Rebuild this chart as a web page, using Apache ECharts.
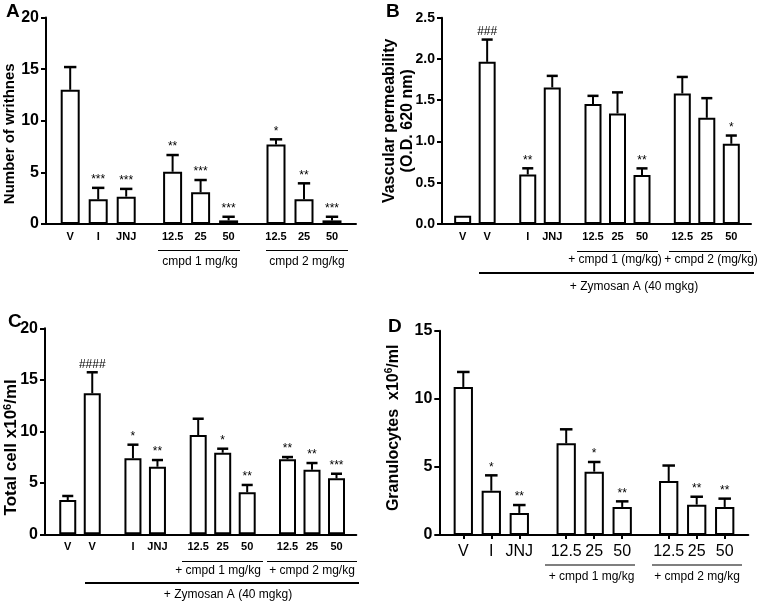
<!DOCTYPE html>
<html>
<head>
<meta charset="utf-8">
<script src="https://cdn.jsdelivr.net/npm/echarts@6/dist/echarts.min.js"></script>
<style>
  html, body { margin: 0; padding: 0; background: #fff; }
  #chart { width: 761px; height: 604px; }
</style>
</head>
<body>
<div id="chart"></div>
<script>
// Panel A - writhing test
const catsA = ['V', 'I', 'JNJ', '12.5', '25', '50', '12.5', '25', '50'];
const valsA = [13.0, 2.39, 2.65, 5.06, 3.07, 0.35, 7.71, 2.39, 0.35];
const errsA = [2.2, 1.11, 0.75, 1.62, 1.19, 0.35, 0.49, 1.55, 0.35];
const sigA = ['', '***', '***', '**', '***', '***', '*', '**', '***'];
const groupsA = [3, 3, 3];
const yTicksA = { max: 20, step: 5 };

// Panel B - vascular permeability
const catsB = ['V', 'V', 'I', 'JNJ', '12.5', '25', '50', '12.5', '25', '50'];
const valsB = [0.1, 1.965, 0.6, 1.655, 1.453, 1.34, 0.593, 1.582, 1.287, 0.972];
const errsB = [0, 0.27, 0.075, 0.14, 0.1, 0.255, 0.081, 0.2, 0.238, 0.1];
const sigB = ['', '###', '**', '', '', '', '**', '', '', '*'];
const groupsB = [2, 2, 3, 3];
const yTicksB = { max: 2.5, step: 0.5 };

// Panel C - total cells
const catsC = ['V', 'V', 'I', 'JNJ', '12.5', '25', '50', '12.5', '25', '50'];
const valsC = [3.33, 13.69, 7.38, 6.56, 9.64, 7.92, 4.08, 7.28, 6.27, 5.43];
const errsC = [0.39, 2.04, 1.32, 0.65, 1.58, 0.39, 0.71, 0.22, 0.65, 0.45];
const sigC = ['', '####', '*', '**', '', '*', '**', '**', '**', '***'];
const groupsC = [2, 2, 3, 3];
const yTicksC = { max: 20, step: 5 };

// Panel D - granulocytes
const catsD = ['V', 'I', 'JNJ', '12.5', '25', '50', '12.5', '25', '50'];
const valsD = [10.87, 3.25, 1.62, 6.73, 4.65, 2.06, 3.96, 2.23, 2.06];
const errsD = [1.1, 1.13, 0.58, 1.03, 0.71, 0.41, 1.14, 0.58, 0.61];
const sigD = ['', '*', '**', '', '*', '**', '', '**', '**'];
const groupsD = [3, 3, 3];
const yTicksD = { max: 15, step: 5 };

const FONT = '"Liberation Sans", Arial, Helvetica, sans-serif';

// layout of each panel (pixels)
const layA = { x0: 45, x1: 356, top: 17.5, y0: 224, slot: 28, barW: 19, centers: [98.2, 200.6, 304], tickSize: 16,
  name: { size: 15, gap: 28, pad: [0, 26, 0, 0] }, lab: { size: 11, bold: true, margin: 7 }, ticks: false };
const layB = { x0: 442, x1: 751, top: 17.7, y0: 224, slot: 24.5, barW: 17, centers: [474.9, 540, 617.5, 706.8], tickSize: 14,
  name: { size: 16, gap: 25, pad: [0, 0, 0, 0] }, lab: { size: 11, bold: true, margin: 7 }, ticks: false };
const layC = { x0: 45, x1: 356.3, top: 328.3, y0: 534.3, slot: 24.5, barW: 17, centers: [80, 145.2, 222.7, 312], tickSize: 16,
  name: { size: 17, gap: 24, pad: [0, 32, 0, 0] }, lab: { size: 11, bold: true, margin: 7 }, ticks: false };
const layD = { x0: 439.3, x1: 748.3, top: 330.7, y0: 535, slot: 28, barW: 19.3, centers: [491.3, 594.2, 696.7], tickSize: 16,
  name: { size: 16, gap: 37, pad: [0, 0, 0, 10] }, lab: { size: 16, bold: false, margin: 9 }, ticks: true };

const grid = [], xAxis = [], yAxis = [], series = [];

function addPanel(L, cats, vals, errs, sigs, groups, yt, yName, fmt) {
  const fi = grid.length;
  grid.push({ left: L.x0, top: L.top, width: L.x1 - L.x0, height: L.y0 - L.top });
  xAxis.push({
    gridIndex: fi, type: 'category', data: [''],
    axisLine: { lineStyle: { color: '#000', width: 2 } },
    axisTick: { show: false }, axisLabel: { show: false }, splitLine: { show: false }
  });
  yAxis.push({
    gridIndex: fi, type: 'value', min: 0, max: yt.max, interval: yt.step,
    axisLine: { show: true, lineStyle: { color: '#000', width: 2 } },
    axisTick: { show: true, length: 5, lineStyle: { color: '#000', width: 2 } },
    splitLine: { show: false },
    axisLabel: { color: '#000', fontSize: L.tickSize, fontWeight: 'bold', fontFamily: FONT, margin: 7, formatter: fmt },
    name: yName, nameLocation: 'middle', nameGap: L.name.gap, nameMoveOverlap: false,
    nameTextStyle: {
      color: '#000', fontSize: L.name.size, fontWeight: 'bold', fontFamily: FONT,
      lineHeight: Math.round(L.name.size * 1.1), padding: L.name.pad,
      rich: { s: { fontSize: Math.round(L.name.size * 0.62), fontWeight: 'bold', fontFamily: FONT, color: '#000', padding: [0, 0, 8, 0] } }
    }
  });

  let start = 0;
  groups.forEach((n, g) => {
    const gi = grid.length;
    const w = n * L.slot;
    grid.push({ left: L.centers[g] - w / 2, top: L.top, width: w, height: L.y0 - L.top });
    xAxis.push({
      gridIndex: gi, type: 'category', data: cats.slice(start, start + n),
      axisLine: { show: false },
      axisTick: { show: L.ticks, alignWithLabel: true, length: 4, lineStyle: { color: '#000', width: 2 } },
      axisLabel: {
        interval: 0, color: '#000', fontSize: L.lab.size, fontFamily: FONT,
        fontWeight: L.lab.bold ? 'bold' : 'normal', margin: L.lab.margin
      }
    });
    yAxis.push({ gridIndex: gi, type: 'value', min: 0, max: yt.max, show: false });

    const v = vals.slice(start, start + n);
    const e = errs.slice(start, start + n);
    const s = sigs.slice(start, start + n);
    const capW = L.barW * 0.65;
    series.push({
      type: 'bar', xAxisIndex: gi, yAxisIndex: gi, data: v, barWidth: L.barW,
      itemStyle: { color: '#fff', borderColor: '#000', borderWidth: 2 }, silent: true
    });
    series.push({
      type: 'custom', xAxisIndex: gi, yAxisIndex: gi, z: 5, silent: true,
      data: v.map((val, k) => [k, val, e[k]]),
      renderItem: (params, api) => {
        const i = api.value(0), val = api.value(1), er = api.value(2);
        const p0 = api.coord([i, val]);
        const p1 = api.coord([i, val + er]);
        const kids = [];
        if (er > 0) {
          kids.push({ type: 'line', shape: { x1: p0[0], y1: p0[1], x2: p1[0], y2: p1[1] },
            style: { stroke: '#000', lineWidth: 2 } });
          kids.push({ type: 'line', shape: { x1: p1[0] - capW / 2, y1: p1[1], x2: p1[0] + capW / 2, y2: p1[1] },
            style: { stroke: '#000', lineWidth: 2.5 } });
        }
        const txt = s[params.dataIndex];
        if (txt) {
          kids.push({ type: 'text', style: {
            text: txt, x: p1[0], y: p1[1] - 2, align: 'center', verticalAlign: 'bottom',
            fontSize: 12, fontFamily: FONT, fill: '#000'
          } });
        }
        return { type: 'group', children: kids };
      }
    });
    start += n;
  });
}

addPanel(layA, catsA, valsA, errsA, sigA, groupsA, yTicksA, 'Number of writhnes', v => v);
addPanel(layB, catsB, valsB, errsB, sigB, groupsB, yTicksB, 'Vascular permeability\n(O.D. 620 nm)', v => v.toFixed(1));
addPanel(layC, catsC, valsC, errsC, sigC, groupsC, yTicksC, 'Total cell x10{s|6}/ml', v => v);
addPanel(layD, catsD, valsD, errsD, sigD, groupsD, yTicksD, 'Granulocytes  x10{s|6}/ml', v => v);

// group brackets and captions
const rules = [
  [158, 240, 250.5, 1, '#000'], [266, 348, 250.5, 1, '#000'],
  [577, 658, 251.5, 1, '#000'], [669, 751, 251.5, 1, '#000'], [479, 754, 273, 2, '#000'],
  [182, 263, 561.5, 1, '#000'], [267, 357, 561.5, 1, '#000'], [85, 359, 583, 2, '#000'],
  [545, 635, 565, 1.5, '#555'], [652, 742, 565, 1.5, '#555']
];
const captions = [
  ['cmpd 1 mg/kg', 200, 262], ['cmpd 2 mg/kg', 307, 262],
  ['+ cmpd 1 (mg/kg)', 615, 260], ['+ cmpd 2 (mg/kg)', 711, 260], ['+ Zymosan A (40 mgkg)', 634, 287],
  ['+ cmpd 1 mg/kg', 218, 571], ['+ cmpd 2 mg/kg', 312, 571], ['+ Zymosan A (40 mgkg)', 228, 595],
  ['+ cmpd 1 mg/kg', 591.5, 577], ['+ cmpd 2 mg/kg', 697, 577]
];
const letters = [['A', 6, 2], ['B', 386, 2], ['C', 8, 312], ['D', 388, 317]];

const graphic = [];
rules.forEach(([a, b, y, w, c]) => graphic.push({
  type: 'line', shape: { x1: a, y1: y, x2: b, y2: y }, style: { stroke: c, lineWidth: w }, silent: true
}));
captions.forEach(([t, x, y]) => graphic.push({
  type: 'text', x, y, silent: true,
  style: { text: t, fontSize: 12, fontFamily: FONT, fill: '#000', align: 'center', verticalAlign: 'middle' }
}));
letters.forEach(([t, x, y]) => graphic.push({
  type: 'text', x, y, silent: true,
  style: { text: t, fontSize: 19, fontWeight: 'bold', fontFamily: FONT, fill: '#000', align: 'left', verticalAlign: 'top' }
}));

const chart = echarts.init(document.getElementById('chart'), null, { renderer: 'canvas' });
chart.setOption({
  backgroundColor: '#fff',
  animation: false,
  grid, xAxis, yAxis, series, graphic
});
</script>
</body>
</html>
